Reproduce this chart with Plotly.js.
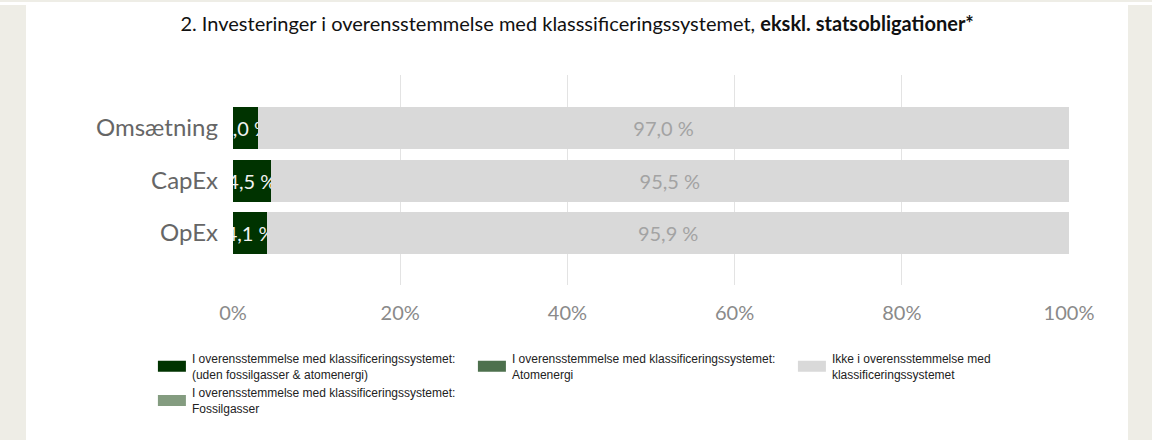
<!DOCTYPE html>
<html>
<head>
<meta charset="utf-8">
<script src="https://cdn.plot.ly/plotly-3.0.1.min.js"></script>
<style>
  html, body { margin: 0; padding: 0; background: #ffffff; }
  #wrap { position: relative; width: 1152px; height: 444px; overflow: hidden; }
  .strip { position: absolute; background: #eeede6; }
  #chart { position: absolute; left: 0; top: 0; width: 1152px; height: 444px; }
</style>
</head>
<body>
<div id="wrap">
  <div class="strip" style="left:0;top:0;width:1152px;height:2px;"></div>
  <div class="strip" style="left:0;top:5px;width:26px;height:435px;"></div>
  <div class="strip" style="left:1128px;top:5px;width:24px;height:435px;"></div>
  <div id="chart"></div>
</div>
<script>
// ---- data ----
const categories = ["Omsætning", "CapEx", "OpEx"];
const alignedExcl = [3.0, 4.5, 4.1];      // I overensstemmelse (uden fossilgasser & atomenergi)
const alignedNuclear = [0, 0, 0];        // Atomenergi
const alignedGas = [0, 0, 0];            // Fossilgasser
const notAligned = [97.0, 95.5, 95.9];   // Ikke i overensstemmelse
const xTickVals = [0, 20, 40, 60, 80, 100];
const xTickText = ["0%", "20%", "40%", "60%", "80%", "100%"];

const seriesNames = [
  "I overensstemmelse med klassificeringssystemet:<br>(uden fossilgasser & atomenergi)",
  "I overensstemmelse med klassificeringssystemet:<br>Atomenergi",
  "Ikke i overensstemmelse med<br>klassificeringssystemet",
  "I overensstemmelse med klassificeringssystemet:<br>Fossilgasser"
];

const fmt = v => v.toFixed(1).replace('.', ',') + ' %';
const labelFont = "Lato, 'Open Sans', sans-serif";

const traces = [
  {
    type: 'bar', orientation: 'h', y: categories, x: alignedExcl,
    name: seriesNames[0], legendrank: 1,
    marker: { color: '#003300' },
    text: alignedExcl.map(fmt), textposition: 'inside', insidetextanchor: 'middle',
    textangle: 0, constraintext: 'none', cliponaxis: true,
    textfont: { color: '#f2f2f2', size: 20, family: labelFont }
  },
  {
    type: 'bar', orientation: 'h', y: categories, x: alignedNuclear,
    name: seriesNames[1], legendrank: 2,
    marker: { color: '#4d704d' }, textposition: 'none'
  },
  {
    type: 'bar', orientation: 'h', y: categories, x: alignedGas,
    name: seriesNames[3], legendrank: 4,
    marker: { color: '#849c80' }, textposition: 'none'
  },
  {
    type: 'bar', orientation: 'h', y: categories, x: notAligned,
    name: seriesNames[2], legendrank: 3,
    marker: { color: '#d9d9d9' },
    text: notAligned.map(fmt), textposition: 'inside', insidetextanchor: 'middle',
    textangle: 0, constraintext: 'none',
    textfont: { color: '#a3a3a3', size: 20, family: labelFont }
  }
];

const layout = {
  width: 1152, height: 444,
  paper_bgcolor: 'rgba(0,0,0,0)', plot_bgcolor: 'rgba(0,0,0,0)',
  margin: { l: 233, r: 83, t: 75, b: 159 },
  barmode: 'stack', bargap: 0.2,
  hovermode: false,
  title: {
    text: '2. Investeringer i overensstemmelse med klasssificeringssystemet, <b>ekskl. statsobligationer*</b>',
    font: { family: labelFont, size: 20, color: '#111111' },
    x: 0.501, xref: 'container', xanchor: 'center', y: 0.946, yanchor: 'middle'
  },
  xaxis: {
    range: [0, 100], tickvals: xTickVals, ticktext: xTickText,
    showgrid: true, gridcolor: '#e3e3e3', gridwidth: 1, zeroline: false,
    showline: false, ticks: '', ticklabelstandoff: 14,
    tickfont: { family: labelFont, size: 20, color: '#8a8a8a' },
    fixedrange: true
  },
  yaxis: {
    type: 'category', range: [2.99, -1.01],
    showgrid: false, zeroline: false, showline: false, ticks: '',
    ticklabelstandoff: 14,
    tickfont: { family: labelFont, size: 24, color: '#666666' },
    fixedrange: true
  },
  showlegend: true,
  legend: {
    orientation: 'h', x: -0.097, xanchor: 'left', y: -0.282, yanchor: 'top',
    entrywidth: 275, entrywidthmode: 'pixels',
    font: { family: "'Liberation Sans', Arial, sans-serif", size: 12, color: '#222222' },
    traceorder: 'normal', bgcolor: 'rgba(0,0,0,0)'
  }
};

Plotly.newPlot('chart', traces, layout, { displayModeBar: false, staticPlot: true }).then(gd => {
  gd.querySelectorAll('.legend .legendpoints path').forEach(p => {
    p.setAttribute('d', 'M-14,-5.5H14V5.5H-14Z');
  });
});
</script>
</body>
</html>
